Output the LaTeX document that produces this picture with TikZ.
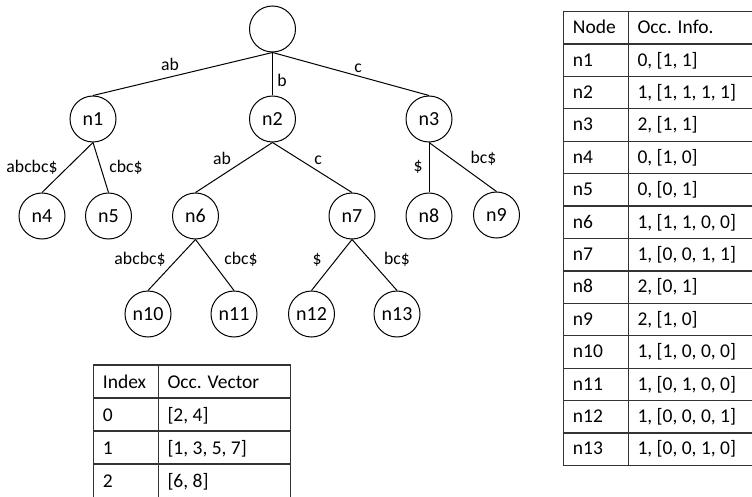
\documentclass[tikz,border=0pt]{standalone}
\usepackage{fontspec}
\setmainfont{Carlito}
\begin{document}
\begin{tikzpicture}[x=1pt,y=-1pt,
  tn/.style={circle, draw, line width=1pt, minimum size=46pt, inner sep=0pt, font=\fontsize{20}{24}\selectfont},
  lbl/.style={anchor=base, inner sep=0pt, font=\fontsize{17.7}{20}\selectfont},
  link/.style={line width=1pt},
  tbl/.style={line width=1.2pt, draw=black!80},
  cell/.style={anchor=base west, inner sep=0pt, font=\fontsize{19.5}{22}\selectfont}]
\useasboundingbox (0,0) rectangle (752,497);
\clip (0,0) rectangle (752,497);

% tree nodes
\node[tn] (root) at (272.5,29) {};
\node[tn] (n1) at (93,119) {n1};
\node[tn] (n2) at (272.5,119) {n2};
\node[tn] (n3) at (429,119) {n3};
\node[tn] (n4) at (42,216) {n4};
\node[tn] (n5) at (108.5,216) {n5};
\node[tn] (n6) at (195.5,216) {n6};
\node[tn] (n7) at (352,216) {n7};
\node[tn] (n8) at (429,216) {n8};
\node[tn] (n9) at (496.5,215) {n9};
\node[tn] (n10) at (148,314) {n10};
\node[tn] (n11) at (234,314) {n11};
\node[tn] (n12) at (311.5,314) {n12};
\node[tn] (n13) at (397,314) {n13};

% edges
\draw[link] (root.south) -- (n1.north);
\draw[link] (root.south) -- (n2.north);
\draw[link] (root.south) -- (n3.north);
\draw[link] (n1.south) -- (n4.north);
\draw[link] (n1.south) -- (n5.north);
\draw[link] (n2.south) -- (n6.north);
\draw[link] (n2.south) -- (n7.north);
\draw[link] (n3.south) -- (n8.north);
\draw[link] (n3.south) -- (n9.north);
\draw[link] (n6.south) -- (n10.north);
\draw[link] (n6.south) -- (n11.north);
\draw[link] (n7.south) -- (n12.north);
\draw[link] (n7.south) -- (n13.north);

% edge labels
\node[lbl] (l1) at (170,71) {ab};
\node[lbl] (l2) at (282,87) {b};
\node[lbl] (l3) at (358,72.5) {c};
\node[lbl] (l4) at (32,173) {abcbc\$};
\node[lbl] (l5) at (126,173) {cbc\$};
\node[lbl] (l6) at (222,165) {ab};
\node[lbl] (l7) at (318,165) {c};
\node[lbl] (l8) at (418,172) {\$};
\node[lbl] (l9) at (483.5,164) {bc\$};
\node[lbl] (l10) at (140,264) {abcbc\$};
\node[lbl] (l11) at (241,264) {cbc\$};
\node[lbl] (l12) at (317,264) {\$};
\node[lbl] (l13) at (397,264) {bc\$};

% right table
\foreach \i in {0,...,14} {
  \draw[tbl] (563.3,{11.7+32.4*\i}) -- (770,{11.7+32.4*\i});
}
\draw[tbl] (563.3,11.7) -- (563.3,465.3);
\draw[tbl] (628.3,11.7) -- (628.3,465.3);
\foreach \a/\b [count=\i from 0] in {Node/{Occ. Info.}, n1/{0, [1, 1]}, n2/{1, [1, 1, 1, 1]}, n3/{2, [1, 1]}, n4/{0, [1, 0]}, n5/{0, [0, 1]}, n6/{1, [1, 1, 0, 0]}, n7/{1, [0, 0, 1, 1]}, n8/{2, [0, 1]}, n9/{2, [1, 0]}, n10/{1, [1, 0, 0, 0]}, n11/{1, [0, 1, 0, 0]}, n12/{1, [0, 0, 0, 1]}, n13/{1, [0, 0, 1, 0]}} {
  \node[cell] (ra\i) at (572.7,{11.7+32.4*\i+22}) {\a};
  \node[cell] (rb\i) at (637.3,{11.7+32.4*\i+22}) {\b};
}

% left table
\foreach \i in {0,...,3} {
  \draw[tbl] (93.3,{365+33*\i}) -- (290.7,{365+33*\i});
}
\draw[tbl] (93.3,365) -- (93.3,520);
\draw[tbl] (158.3,365) -- (158.3,520);
\draw[tbl] (290.7,365) -- (290.7,520);
\foreach \a/\b [count=\i from 0] in {Index/{Occ. Vector}, 0/{[2, 4]}, 1/{[1, 3, 5, 7]}, 2/{[6, 8]}} {
  \node[cell] (la\i) at (102.7,{365+33*\i+23}) {\a};
  \node[cell] (lb\i) at (167.3,{365+33*\i+23}) {\b};
}
\end{tikzpicture}
\end{document}
